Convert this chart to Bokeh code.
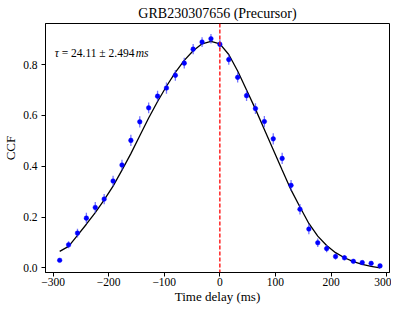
from bokeh.plotting import figure
from bokeh.models import Span, FixedTicker, Range1d, ColumnDataSource
from bokeh.core.properties import value
from bokeh.embed import file_html
from bokeh.resources import INLINE

# ---- data ----
lag = [-288, -272, -256, -240, -224, -208, -192, -176, -160, -144, -128, -112, -96,
       -80, -64, -48, -32, -16, 0, 16, 32, 48, 64, 80, 96, 112, 128, 144, 160, 176,
       192, 208, 224, 240, 256, 272, 288]
ccf = [0.030, 0.091, 0.137, 0.196, 0.238, 0.271, 0.342, 0.405, 0.502, 0.575, 0.630,
       0.676, 0.708, 0.758, 0.806, 0.861, 0.889, 0.902, 0.880, 0.820, 0.750, 0.678,
       0.627, 0.576, 0.508, 0.431, 0.325, 0.231, 0.153, 0.099, 0.076, 0.045, 0.040,
       0.026, 0.021, 0.018, 0.008]
ccf_err = [0.005, 0.014, 0.017, 0.021, 0.021, 0.020, 0.021, 0.021, 0.022, 0.022, 0.021,
           0.021, 0.022, 0.021, 0.021, 0.020, 0.019, 0.019, 0.018, 0.020, 0.020, 0.021,
           0.021, 0.022, 0.022, 0.022, 0.021, 0.021, 0.020, 0.017, 0.014, 0.012, 0.010,
           0.008, 0.007, 0.006, 0.006]
fit_x = lag
fit_y = [0.065, 0.085, 0.128, 0.172, 0.218, 0.268, 0.322, 0.385, 0.450, 0.520, 0.590,
         0.655, 0.715, 0.770, 0.817, 0.855, 0.882, 0.892, 0.882, 0.840, 0.775, 0.700,
         0.625, 0.545, 0.465, 0.385, 0.307, 0.240, 0.175, 0.125, 0.088, 0.060, 0.040,
         0.025, 0.014, 0.006, 0.000]
x_ticks = [-300, -200, -100, 0, 100, 200, 300]
x_tick_labels = ["\u2212300", "\u2212200", "\u2212100", "0", "100", "200", "300"]
y_ticks = [0.0, 0.2, 0.4, 0.6, 0.8]
y_tick_labels = ["0.0", "0.2", "0.4", "0.6", "0.8"]
title_text = "GRB230307656 (Precursor)"
ann_parts = ["\u03c4", "= 24.11 \u00b1 2.494", "ms"]

FONT = "Liberation Serif"

src = ColumnDataSource(dict(
    x=lag, y=ccf,
    lo=[v - e for v, e in zip(ccf, ccf_err)],
    hi=[v + e for v, e in zip(ccf, ccf_err)],
))

p = figure(width=391, height=306, x_range=Range1d(-313.5, 305), y_range=Range1d(-0.018, 0.962),
           output_backend="svg", toolbar_location=None, title=title_text)
p.min_border_right = 2
p.min_border_top = 0
p.min_border_bottom = 0
p.min_border_left = 45
p.title.align = "center"
p.title.text_font = FONT
p.title.text_font_size = "14px"
p.title.text_font_style = "normal"
p.title.text_color = "black"
p.title.standoff = 6
p.title.offset = 0
p.title.text_line_height = 1.0
p.xgrid.visible = False
p.ygrid.visible = False
p.outline_line_color = "black"
p.outline_line_width = 1
p.outline_line_alpha = 1

for ax in (p.xaxis[0], p.yaxis[0]):
    ax.minor_tick_line_color = None
    ax.major_tick_in = 0
    ax.major_tick_out = 4
    ax.axis_line_color = "black"
    ax.major_tick_line_color = "black"
    ax.major_label_text_font = FONT
    ax.major_label_text_font_size = "11.5px"
    ax.major_label_text_color = "black"
    ax.major_label_text_line_height = 1.0
    ax.axis_label_text_font = FONT
    ax.axis_label_text_font_size = "13px"
    ax.axis_label_text_font_style = "normal"
    ax.axis_label_text_color = "black"
    ax.axis_label_text_line_height = 1.0

p.xaxis.major_label_standoff = 1
p.xaxis.axis_label_standoff = 0
p.yaxis.major_label_standoff = 4
p.yaxis.axis_label_standoff = 2

p.xaxis.ticker = FixedTicker(ticks=x_ticks)
p.xaxis.major_label_overrides = dict(zip(x_ticks, x_tick_labels))
p.yaxis.ticker = FixedTicker(ticks=y_ticks)
p.yaxis.major_label_overrides = dict(zip(y_ticks, y_tick_labels))
p.xaxis.axis_label = "Time delay (ms)"
p.yaxis.axis_label = "CCF"

# fit curve
p.line(fit_x, fit_y, line_color="black", line_width=1.3)

# error bars and points
p.segment(x0="x", y0="lo", x1="x", y1="hi", source=src, line_color="#3c3cff",
          line_alpha=0.7, line_width=1.3)
p.scatter(x="x", y="y", source=src, size=4.6, marker="circle", fill_color="blue",
          line_color="blue", line_width=0.5)

# zero-lag marker
p.add_layout(Span(location=0, dimension="height", line_color="#ff0000", line_alpha=1.0,
                  line_width=1.3, line_dash="4 2"))

# annotation
ax0, ay0 = -297, 0.845
p.text(x=[ax0], y=[ay0], text=[ann_parts[0]], text_font=value(FONT),
       text_font_style="italic", text_font_size="11.5px", text_baseline="alphabetic",
       text_color="black")
p.text(x=[ax0], y=[ay0], text=[ann_parts[1]], text_font=value(FONT),
       text_font_size="11.5px", text_baseline="alphabetic", text_color="black", x_offset=7)
p.text(x=[ax0], y=[ay0], text=[ann_parts[2]], text_font=value(FONT),
       text_font_style="italic", text_font_size="11.5px", text_baseline="alphabetic",
       text_color="black", x_offset=81)

open("out.html", "w").write(file_html(p, INLINE))
